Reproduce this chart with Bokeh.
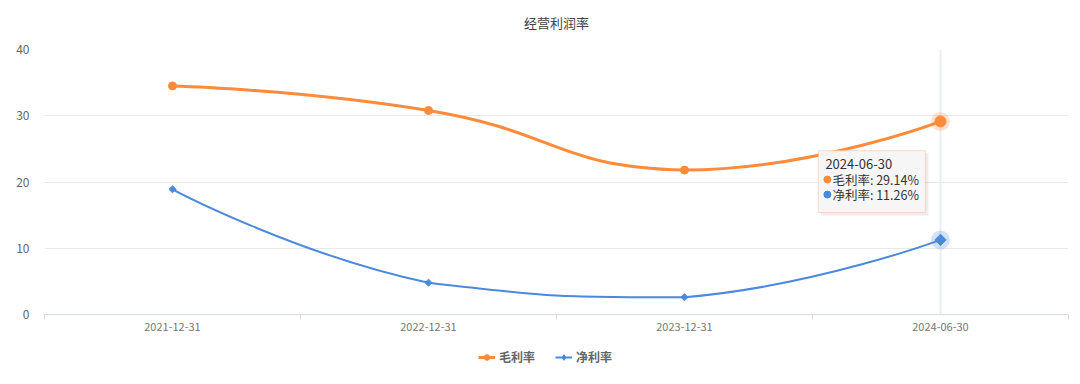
import math
from bokeh.plotting import figure
from bokeh.layouts import column
from bokeh.models import FixedTicker, Span, Label, BoxAnnotation, Legend, LegendItem, Range1d
from bokeh.embed import file_html
from bokeh.resources import INLINE

# ---------------- data ----------------
dates = ["2021-12-31", "2022-12-31", "2023-12-31", "2024-06-30"]
gross_margin = [34.5, 30.8, 21.8, 29.14]
net_margin = [18.9, 4.8, 2.6, 11.26]
y_ticks = [0, 10, 20, 30, 40]
series_names = ["毛利率", "净利率"]
title_text = "经营利润率"

# ---------------- style ----------------
FONT = "Noto Sans CJK SC"
ORANGE = "#fd8b3a"
BLUE = "#4a89dc"
TITLE_H = 36
BL, BR, BT, BB = 44, 12, 49 - TITLE_H, 30
FRAME_W = 1024
FRAME_H = 265
TOTAL_W = BL + FRAME_W + BR
Y_MAX = 40
ROT = math.pi / 4

xs = [i + 1 for i in range(len(dates))]
SX = FRAME_W / len(dates)
SY = FRAME_H / Y_MAX


def smooth_segments(xv, yv, smooth=0.5):
    """ECharts-like smooth bezier segments, computed in pixel space."""
    px = [x * SX for x in xv]
    py = [y * SY for y in yv]
    n = len(px)
    seg = dict(x0=[], y0=[], x1=[], y1=[], cx0=[], cy0=[], cx1=[], cy1=[])
    c0x, c0y = px[0], py[0]
    for i in range(1, n):
        x, y = px[i], py[i]
        prx, pry = px[i - 1], py[i - 1]
        if i == n - 1:
            c1x, c1y = x, y
            n0x, n0y = x, y
        else:
            nx, ny = px[i + 1], py[i + 1]
            vx, vy = nx - prx, ny - pry
            l0 = math.hypot(x - prx, y - pry)
            l1 = math.hypot(nx - x, ny - y)
            r = l1 / (l0 + l1)
            c1x = x - vx * smooth * (1 - r)
            c1y = y - vy * smooth * (1 - r)
            n0x = x + vx * smooth * r
            n0y = y + vy * smooth * r
            c1x = min(max(c1x, min(prx, x)), max(prx, x))
            c1y = min(max(c1y, min(pry, y)), max(pry, y))
            n0x = min(max(n0x, min(nx, x)), max(nx, x))
            n0y = min(max(n0y, min(ny, y)), max(ny, y))
        seg["x0"].append(prx / SX); seg["y0"].append(pry / SY)
        seg["x1"].append(x / SX); seg["y1"].append(y / SY)
        seg["cx0"].append(c0x / SX); seg["cy0"].append(c0y / SY)
        seg["cx1"].append(c1x / SX); seg["cy1"].append(c1y / SY)
        c0x, c0y = n0x, n0y
    return seg


def strip(height):
    f = figure(width=TOTAL_W, height=height, output_backend="svg", toolbar_location=None,
               x_range=Range1d(0, TOTAL_W), y_range=Range1d(0, height), x_axis_location=None,
               y_axis_location=None, min_border=0)
    f.outline_line_color = None
    f.grid.grid_line_color = None
    return f


# title strip
title_fig = strip(TITLE_H)
title_fig.add_layout(Label(x=TOTAL_W / 2, y=TITLE_H - 22, text=title_text, text_align="center",
                           text_baseline="middle", text_font=FONT, text_font_size="13px",
                           text_color="#444444"))

fig = figure(frame_width=FRAME_W, frame_height=FRAME_H, output_backend="svg", toolbar_location=None,
             x_range=Range1d(0.5, len(dates) + 0.5), y_range=Range1d(0, Y_MAX),
             min_border_left=BL, min_border_right=BR, min_border_top=BT, min_border_bottom=BB)
fig.outline_line_color = None
fig.background_fill_color = "white"
fig.border_fill_color = "white"

# axes
fig.xaxis.ticker = FixedTicker(ticks=xs, minor_ticks=[x - 0.5 for x in xs] + [xs[-1] + 0.5])
fig.xaxis.major_label_overrides = {x: d for x, d in zip(xs, dates)}
fig.xaxis.axis_line_color = "#d3daee"
fig.xaxis.major_tick_out = 0
fig.xaxis.major_tick_in = 0
fig.xaxis.minor_tick_out = 5
fig.xaxis.minor_tick_in = 0
fig.xaxis.minor_tick_line_color = "#d3daee"
fig.xaxis.major_label_text_color = "#777777"
fig.xaxis.major_label_text_font = FONT
fig.xaxis.major_label_text_font_size = "11px"
fig.xaxis.major_label_standoff = 3

fig.yaxis.ticker = FixedTicker(ticks=y_ticks)
fig.yaxis.axis_line_color = None
fig.yaxis.major_tick_line_color = None
fig.yaxis.minor_tick_line_color = None
fig.yaxis.major_label_text_color = "#666666"
fig.yaxis.major_label_text_font = FONT
fig.yaxis.major_label_text_font_size = "12px"
fig.yaxis.major_label_standoff = 9

fig.xgrid.grid_line_color = None
fig.ygrid.grid_line_color = "#e8e8e8"

# hover pointer line
fig.add_layout(Span(location=xs[-1], dimension="height", line_color="#eceef9", line_width=2,
                    level="underlay"))

# lines
g = smooth_segments(xs, gross_margin)
n = smooth_segments(xs, net_margin)
fig.bezier(source=g, x0="x0", y0="y0", x1="x1", y1="y1", cx0="cx0", cy0="cy0",
           cx1="cx1", cy1="cy1", line_color=ORANGE, line_width=3)
fig.bezier(source=n, x0="x0", y0="y0", x1="x1", y1="y1", cx0="cx0", cy0="cy0",
           cx1="cx1", cy1="cy1", line_color=BLUE, line_width=2)

fig.scatter(xs[:-1], gross_margin[:-1], marker="circle", size=8, color=ORANGE)
fig.scatter(xs[:-1], net_margin[:-1], marker="square", angle=ROT, size=5, color=BLUE)

# highlighted (hovered) points
fig.scatter([xs[-1]], [gross_margin[-1]], marker="circle", size=19, color=ORANGE, alpha=0.25, line_color=None)
fig.scatter([xs[-1]], [gross_margin[-1]], marker="circle", size=11, color=ORANGE)
fig.scatter([xs[-1]], [net_margin[-1]], marker="circle", size=19, color=BLUE, alpha=0.25, line_color=None)
fig.scatter([xs[-1]], [net_margin[-1]], marker="square", angle=ROT, size=8, color=BLUE)

# tooltip (hover state)
TL, TR, TT, TBm = 3.523, 3.941, 24.75, 15.4
shadow = BoxAnnotation(left=TL + 0.01, right=TR + 0.012, top=TT - 0.35, bottom=TBm - 0.45,
                       fill_color="#000000", fill_alpha=0.07, line_color=None)
box = BoxAnnotation(left=TL, right=TR, top=TT, bottom=TBm, fill_color="#f7f7f7", fill_alpha=0.95,
                    line_color="#f2a472", line_width=1.2)
fig.add_layout(shadow)
fig.add_layout(box)
fig.add_layout(Label(x=TL, y=TT - 13 / SY, x_offset=7, text=dates[-1], text_baseline="middle",
                     text_font=FONT, text_font_size="13px", text_color="#333333"))
rows = [(series_names[0], gross_margin[-1], ORANGE), (series_names[1], net_margin[-1], BLUE)]
for k, (nm, v, c) in enumerate(rows):
    yy = TT - (29 + 15 * k) / SY
    fig.scatter([TL + 9 / SX], [yy], marker="circle", size=7, color=c, level="overlay")
    fig.add_layout(Label(x=TL, y=yy, x_offset=14, text=f"{nm}: {v:.2f}%", text_baseline="middle",
                         text_font=FONT, text_font_size="12.5px", text_color="#333333"))

# legend strip below the chart
leg_fig = strip(28)
lg_line = leg_fig.line([-5, -4], [-5, -4], line_color=ORANGE, line_width=3)
lg_pt = leg_fig.scatter([-5], [-5], marker="circle", size=8, color=ORANGE)
ln_line = leg_fig.line([-5, -4], [-5, -4], line_color=BLUE, line_width=2)
ln_pt = leg_fig.scatter([-5], [-5], marker="diamond", size=8, color=BLUE)
legend = Legend(items=[LegendItem(label=series_names[0], renderers=[lg_line, lg_pt]),
                       LegendItem(label=series_names[1], renderers=[ln_line, ln_pt])],
                orientation="horizontal", location=(434, 7),
                label_text_font=FONT, label_text_font_size="12px", label_text_font_style="bold",
                label_text_color="#666666", glyph_width=17, glyph_height=14, spacing=20,
                label_standoff=4, label_height=14, border_line_color=None, background_fill_alpha=0,
                margin=0, padding=0)
leg_fig.add_layout(legend)

p = column(title_fig, fig, leg_fig, spacing=0)

open("out.html", "w").write(file_html(p, INLINE))
